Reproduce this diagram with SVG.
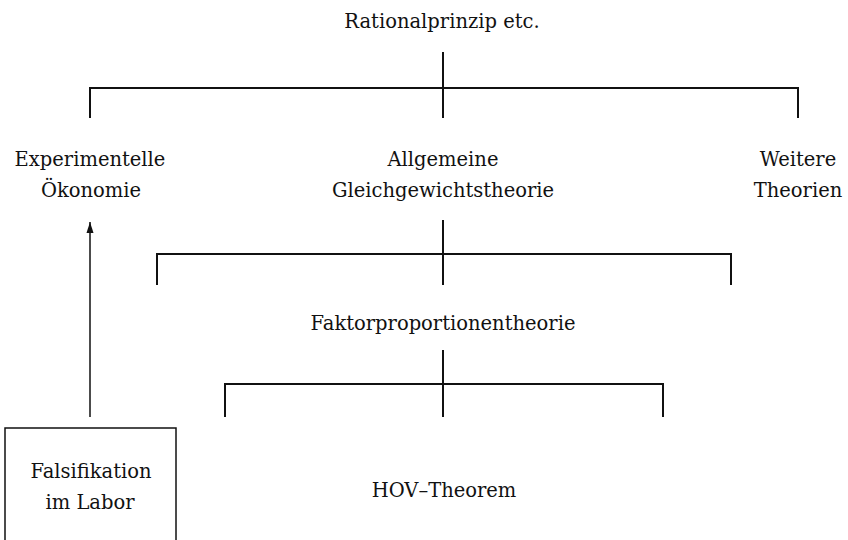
<svg xmlns="http://www.w3.org/2000/svg" width="848" height="540" viewBox="0 0 848 540">
<style>
text{font-family:"DejaVu Serif","Liberation Serif",serif;font-size:19.5px;fill:#111;text-anchor:middle}
.br{stroke:#111;stroke-width:2;fill:none}
.ar{stroke:#111;stroke-width:1.5;fill:none}
.box{stroke:#111;stroke-width:1.5;fill:#fff}
</style>
<defs>
<marker id="ah" markerWidth="12" markerHeight="8" refX="11" refY="4" orient="auto" markerUnits="userSpaceOnUse" viewBox="0 0 12 8">
<path d="M0,0.5 L11,4 L0,7.5 Z" fill="#111"/>
</marker>
</defs>
<g id="connectors">
<path class="br" d="M443,52 V118 M90,118 V88 H798 V118"/>
<path class="br" d="M443,220 V285 M157,285 V254 H731 V285"/>
<path class="br" d="M443,350 V417 M225,417 V384 H663 V417"/>
<line class="ar" x1="90" y1="417" x2="90" y2="222" marker-end="url(#ah)"/>
</g>
<g id="rationalprinzip"><text x="442" y="28">Rationalprinzip etc.</text></g>
<g id="experimentelle"><text x="90" y="166">Experimentelle</text><text x="91" y="197">Ökonomie</text></g>
<g id="allgemeine"><text x="443" y="166">Allgemeine</text><text x="443" y="197">Gleichgewichtstheorie</text></g>
<g id="weitere"><text x="798" y="166">Weitere</text><text x="798" y="197">Theorien</text></g>
<g id="faktor"><text x="443" y="330">Faktorproportionentheorie</text></g>
<g id="hov"><text x="444" y="497">HOV–Theorem</text></g>
<g id="falsifikation"><rect class="box" x="5" y="428" width="171" height="120"/><text x="91" y="478">Falsifikation</text><text x="90" y="509">im Labor</text></g>
</svg>
